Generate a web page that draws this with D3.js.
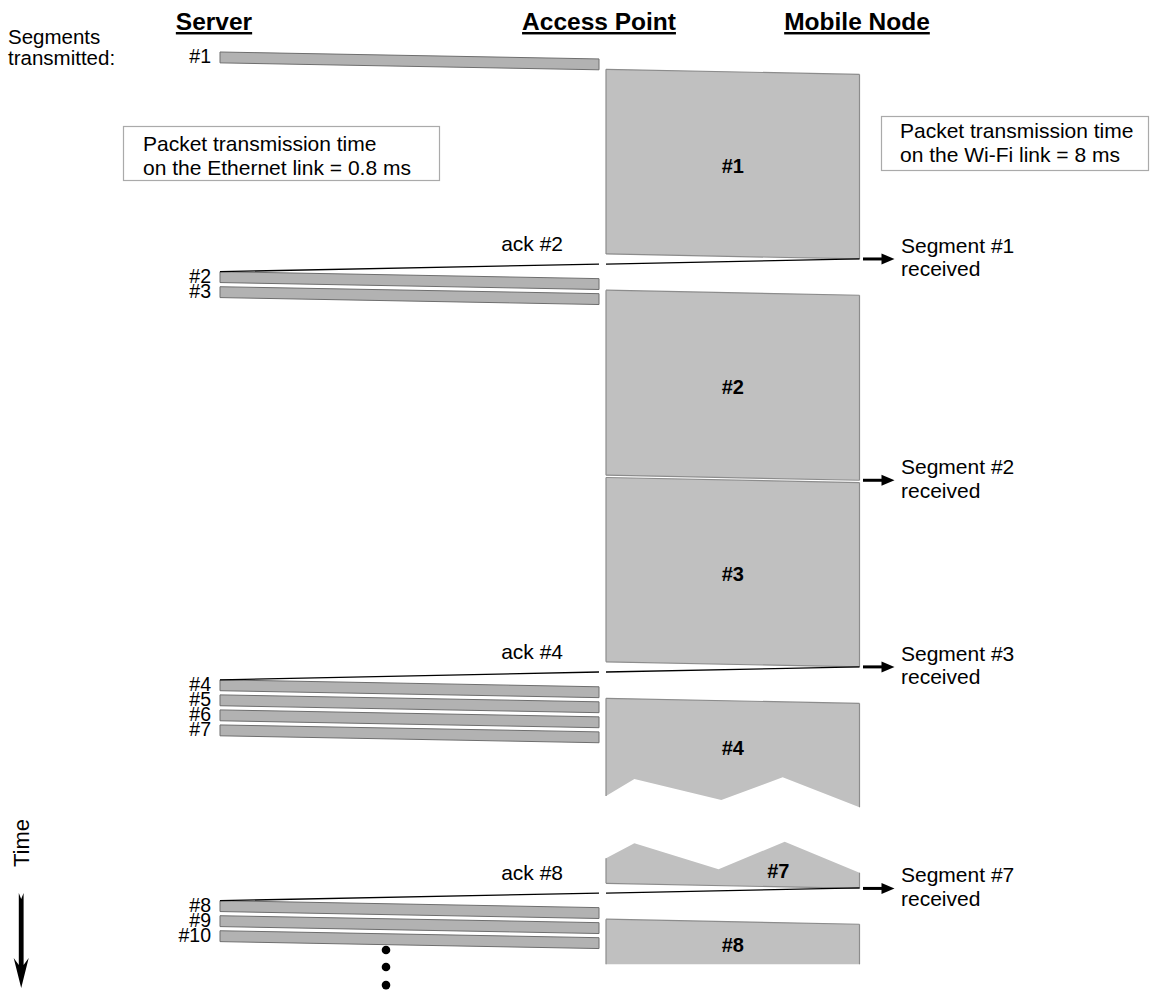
<!DOCTYPE html>
<html><head><meta charset="utf-8">
<script src="https://cdn.jsdelivr.net/npm/d3@7"></script>
<style>body{margin:0;background:#fff} svg{display:block} text{font-family:"Liberation Sans",Arial,sans-serif;fill:#000}</style>
</head><body><svg id="c" width="1154" height="993"></svg>
<script>
// ---- data ----
const nodes = ["Server", "Access Point", "Mobile Node"];
const serverSegments = ["#1","#2","#3","#4","#5","#6","#7","#8","#9","#10"];
const serverSendMs = [0, 9.5, 10.15, 27.15, 27.8, 28.45, 29.1, 36.7, 37.35, 38.0];
const wifiSegments = ["#1","#2","#3","#4","#7","#8"];
const wifiStartMs = [0.75, 10.3, 18.4, 27.95, null, 37.5];
const wifiEndMs = [8.73, 18.3, 26.37, null, 35.95, null];
const wifiTop = ["edge","edge","edge","edge","break","edge"];
const wifiBottom = ["edge","edge","edge","break","edge","cut"];
const wifiCutMs = 39.45;
const breakUpperFrac = [0, 0.112, 0.455, 0.697, 1];
const breakUpperMs = [32.17, 31.44, 32.35, 31.36, 32.66];
const breakLowerFrac = [0, 0.112, 0.444, 0.705, 1];
const breakLowerMs = [34.87, 34.22, 35.34, 34.15, 35.49];
const ackLabels = ["ack #2", "ack #4", "ack #8"];
const ackSendMs = [8.95, 26.59, 36.15];
const ackArriveMs = [9.5, 27.15, 36.7];
const receivedLabels = ["Segment #1", "Segment #2", "Segment #3", "Segment #7"];
const receivedMs = [8.95, 18.52, 26.59, 36.17];
const ethernetNote = ["Packet transmission time", "on the Ethernet link = 0.8 ms"];
const wifiNote = ["Packet transmission time", "on the Wi-Fi link = 8 ms"];
const segmentsTitle = ["Segments", "transmitted:"];
const ellipsisMs = [38.83, 39.57, 40.35];
const ethDelayMs = 0.3, wifiDelayMs = 0.22, ethDrawnTxMs = 0.47;

// ---- scales ----
const svg = d3.select("#c");
const y = d3.scaleLinear().domain([0, 40]).range([52, 977]);
const x = d3.scaleOrdinal().domain(nodes).range([220, 602.5, 859.5]);
const gap = 3.5;
const sX = x("Server"), apL = x("Access Point") - gap, apR = x("Access Point") + gap, mX = x("Mobile Node");
const font = 21;

// headers
svg.selectAll("text.hdr").data(nodes).join("text").attr("class","hdr")
  .attr("x", (d,i) => [214, 599, 857][i]).attr("y", 30)
  .attr("text-anchor","middle").attr("font-size",24.5).attr("font-weight","bold")
  .style("text-decoration","underline").text(d => d);

svg.selectAll("text.segt").data(segmentsTitle).join("text").attr("class","segt")
  .attr("x", 8).attr("y", (d,i) => 44 + i*20.5).attr("font-size", 20.5).text(d=>d);

// server packets
const pk = svg.append("g");
serverSegments.forEach((s,i) => {
  const t = serverSendMs[i];
  const pts = [[sX, y(t)], [apL, y(t+ethDelayMs)], [apL, y(t+ethDelayMs+ethDrawnTxMs)], [sX, y(t+ethDrawnTxMs)]];
  pk.append("polygon").attr("points", pts.map(p=>p.join(",")).join(" "))
    .attr("fill","#b2b2b2").attr("stroke","#6e6e6e").attr("stroke-width",1);
  pk.append("text").attr("x", sX-9).attr("y", y(t)+11).attr("text-anchor","end")
    .attr("font-size", 19.5).text(s);
});

// wifi blocks
const wb = svg.append("g");
const fx = f => apR + f*(mX - apR);
wifiSegments.forEach((s,i) => {
  let top, bottom;
  if (wifiTop[i] === "edge") top = [[apR, y(wifiStartMs[i])], [mX, y(wifiStartMs[i]+wifiDelayMs)]];
  else top = breakLowerFrac.map((f,k) => [fx(f), y(breakLowerMs[k])]);
  if (wifiBottom[i] === "edge") bottom = [[mX, y(wifiEndMs[i]+wifiDelayMs)], [apR, y(wifiEndMs[i])]];
  else if (wifiBottom[i] === "break") bottom = breakUpperFrac.map((f,k) => [fx(f), y(breakUpperMs[k])]).reverse();
  else bottom = [[mX, y(wifiCutMs)], [apR, y(wifiCutMs)]];
  const poly = top.concat(bottom);
  wb.append("polygon").attr("points", poly.map(p=>p.join(",")).join(" ")).attr("fill","#c0c0c0");
  const line = d3.line();
  const add = pts => wb.append("path").attr("d", line(pts))
    .attr("stroke","#8c8c8c").attr("stroke-width",1.2).attr("fill","none");
  add([top[0], bottom[bottom.length-1]]);
  add([top[top.length-1], bottom[0]]);
  if (wifiTop[i] === "edge") add(top);
  if (wifiBottom[i] === "edge") add(bottom);
  let ly, lx = (apR + mX)/2;
  const topMid = d3.mean(top, p=>p[1]), botMid = d3.mean(bottom, p=>p[1]);
  if (wifiTop[i] === "break") { ly = y(wifiEndMs[i]) - 12; lx = fx(0.68); }
  else ly = (topMid + botMid)/2 + 2;
  wb.append("text").attr("x", lx).attr("y", ly+7).attr("text-anchor","middle")
    .attr("font-size", 20).attr("font-weight","bold").text(s);
});

// acks
const ak = svg.append("g");
ackLabels.forEach((a,i) => {
  const tAp = ackSendMs[i] + wifiDelayMs;
  ak.append("line").attr("x1", mX).attr("y1", y(ackSendMs[i])).attr("x2", apR).attr("y2", y(tAp))
    .attr("stroke","#000").attr("stroke-width",1.3);
  ak.append("line").attr("x1", apL).attr("y1", y(tAp)).attr("x2", sX).attr("y2", y(ackArriveMs[i]))
    .attr("stroke","#000").attr("stroke-width",1.3);
  ak.append("text").attr("x", 563).attr("y", y(tAp)-13).attr("text-anchor","end")
    .attr("font-size", font).text(a);
});

// received arrows
const rc = svg.append("g");
receivedLabels.forEach((r,i) => {
  const yy = y(receivedMs[i]);
  rc.append("line").attr("x1", mX+3.5).attr("x2", mX+24).attr("y1", yy).attr("y2", yy)
    .attr("stroke","#000").attr("stroke-width",3);
  rc.append("polygon").attr("points", `${mX+22},${yy-5.5} ${mX+35},${yy} ${mX+22},${yy+5.5}`).attr("fill","#000");
  rc.append("text").attr("x", 901).attr("y", yy-6).attr("font-size", font).text(r);
  rc.append("text").attr("x", 901).attr("y", yy+17.5).attr("font-size", font).text("received");
});

// notes
const note = (lines, bx, by, bw, bh, tx, ty) => {
  svg.append("rect").attr("x",bx).attr("y",by).attr("width",bw).attr("height",bh)
    .attr("fill","#fff").attr("stroke","#aaaaaa").attr("stroke-width",1.2);
  svg.selectAll(null).data(lines).join("text").attr("x", tx).attr("y",(d,i)=>ty+i*24)
    .attr("font-size", font).text(d=>d);
};
note(ethernetNote, 123.5, 126.5, 316, 54, 143, 151);
note(wifiNote, 881.5, 116.5, 267, 54, 900, 138);

// ellipsis
svg.selectAll("circle.dot").data(ellipsisMs).join("circle").attr("class","dot")
  .attr("cx", 386).attr("cy", d=>y(d)).attr("r",4.3).attr("fill","#000");

// time axis
svg.append("text").attr("transform","translate(29,843) rotate(-90)").attr("text-anchor","middle")
  .attr("font-size",22).text("Time");
svg.append("polygon").attr("points","18.8,893 21.2,899 23.6,893 23.6,965 28.7,958 21.2,988 13.7,958 18.8,965").attr("fill","#000");
</script></body></html>
